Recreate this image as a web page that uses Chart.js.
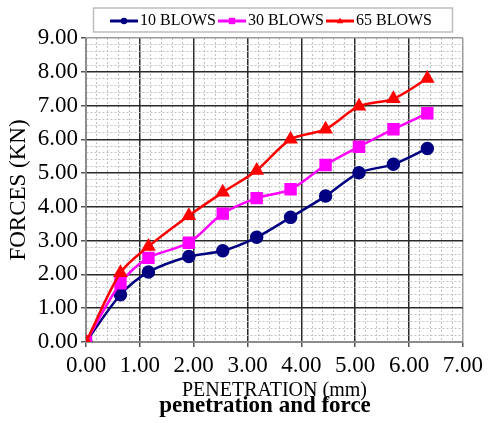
<!DOCTYPE html>
<html>
<head>
<meta charset="utf-8">
<script src="https://cdn.jsdelivr.net/npm/chart.js@4/dist/chart.umd.min.js"></script>
<style>
  html, body { margin: 0; padding: 0; background: #fff; }
</style>
</head>
<body>
<canvas id="myChart" width="488" height="423"></canvas>
<script>
// penetration (mm) readings, shared by all three series
var penetration = [0, 0.64, 1.16, 1.91, 2.54, 3.17, 3.80, 4.45, 5.07, 5.71, 6.34];
// forces (KN)
var blows10 = [0, 1.40, 2.07, 2.53, 2.70, 3.10, 3.69, 4.32, 5.01, 5.26, 5.73];
var blows30 = [0, 1.74, 2.49, 2.94, 3.80, 4.26, 4.52, 5.24, 5.78, 6.30, 6.77];
var blows65 = [0, 2.05, 2.83, 3.74, 4.43, 5.08, 6.00, 6.30, 6.98, 7.20, 7.80];
var seriesNames = ['10 BLOWS', '30 BLOWS', '65 BLOWS'];
var caption = 'penetration and force';

var serif = "'Liberation Serif', 'Times New Roman', serif";

function pts(ys) {
  return ys.map(function (y, i) { return { x: penetration[i], y: y }; });
}
function isMajor(v) { return Math.abs(v - Math.round(v)) < 1e-6; }

function gridColor(max) {
  return function (c) {
    var v = c.tick.value;
    if (!isMajor(v)) return '#c2c2c2';
    if (Math.abs(v - max) < 1e-6) return '#9a9a9a';
    return '#2a2a2a';
  };
}
function gridWidth(c) { return isMajor(c.tick.value) ? 1.5 : 1; }
function tickColor(c) { return isMajor(c.tick.value) ? '#555' : 'rgba(0,0,0,0)'; }
function gridDash(c) {
  if (!c.tick) return [];
  return isMajor(c.tick.value) ? [] : [2, 2];
}
function tickLabel(v) { return isMajor(v) ? v.toFixed(2) : ''; }

function drawMarker(ctx, style, x, y, r) {
  ctx.beginPath();
  if (style === 'circle') {
    ctx.arc(x, y, r, 0, 2 * Math.PI);
  } else if (style === 'rect') {
    ctx.rect(x - r, y - r, 2 * r, 2 * r);
  } else {
    ctx.moveTo(x, y - r * 1.1);
    ctx.lineTo(x + r, y + r * 0.7);
    ctx.lineTo(x - r, y + r * 0.7);
    ctx.closePath();
  }
  ctx.fill();
}

// legend box on top and the caption under the x axis
var extras = {
  id: 'extras',
  afterDraw: function (chart) {
    var ctx = chart.ctx;
    ctx.save();
    ctx.strokeStyle = '#bdbdbd';
    ctx.lineWidth = 1.5;
    ctx.strokeRect(93.5, 8, 359, 24);
    ctx.font = '16px ' + serif;
    ctx.textBaseline = 'middle';
    ctx.textAlign = 'left';
    var x = 110, y = 21;
    chart.data.datasets.forEach(function (ds) {
      ctx.strokeStyle = ds.borderColor;
      ctx.fillStyle = ds.borderColor;
      ctx.lineWidth = 3;
      ctx.beginPath();
      ctx.moveTo(x, y);
      ctx.lineTo(x + 28, y);
      ctx.stroke();
      drawMarker(ctx, ds.pointStyle, x + 14, y, 3.2);
      x += 30;
      ctx.fillStyle = '#000';
      ctx.fillText(ds.label, x, y);
      x += ctx.measureText(ds.label).width + 2;
    });

    ctx.font = 'bold 23px ' + serif;
    ctx.textAlign = 'center';
    ctx.fillStyle = '#000';
    ctx.fillText(caption, 265, 406);
    ctx.restore();
  }
};

var ctx = document.getElementById('myChart');
var charts = new Chart(ctx, {
  type: 'line',
  data: {
    datasets: [
      {
        label: seriesNames[0],
        data: pts(blows10),
        borderColor: '#000080',
        backgroundColor: '#000080',
        borderWidth: 2.5,
        pointStyle: 'circle',
        pointRadius: 5.5,
        tension: 0.3,
        order: 3
      },
      {
        label: seriesNames[1],
        data: pts(blows30),
        borderColor: '#ff00ff',
        backgroundColor: '#ff00ff',
        borderWidth: 2.5,
        pointStyle: 'rect',
        pointRadius: 7,
        tension: 0.3,
        order: 2
      },
      {
        label: seriesNames[2],
        data: pts(blows65),
        borderColor: '#ff0000',
        backgroundColor: '#ff0000',
        borderWidth: 2.5,
        pointStyle: 'triangle',
        pointRadius: 6,
        tension: 0.3,
        order: 1
      }
    ]
  },
  options: {
    responsive: false,
    animation: false,
    layout: { padding: { left: 0, right: 22, top: 38, bottom: 26 } },
    plugins: {
      legend: { display: false },
      tooltip: { enabled: false },
      title: { display: false }
    },
    scales: {
      x: {
        type: 'linear',
        min: 0,
        max: 7,
        afterFit: function (s) { s.height = 55; },
        ticks: {
          stepSize: 0.2,
          autoSkip: false,
          maxRotation: 0,
          padding: 5,
          color: '#000',
          font: { family: serif, size: 23 },
          callback: tickLabel
        },
        grid: { color: gridColor(7), lineWidth: gridWidth, tickColor: tickColor, tickLength: 5 },
        border: { color: '#8a8a8a', width: 1.5, dash: gridDash },
        title: {
          display: true,
          text: 'PENETRATION (mm)',
          color: '#000',
          font: { family: serif, size: 20, lineHeight: 0.6 },
          padding: 0
        }
      },
      y: {
        min: 0,
        max: 9,
        afterFit: function (s) { s.width = 86; },
        ticks: {
          stepSize: 0.2,
          autoSkip: false,
          padding: 3,
          color: '#000',
          font: { family: serif, size: 23 },
          callback: tickLabel
        },
        grid: { color: gridColor(9), lineWidth: gridWidth, tickColor: tickColor, tickLength: 5 },
        border: { color: '#8a8a8a', width: 1.5, dash: gridDash },
        title: {
          display: true,
          text: 'FORCES (KN)',
          color: '#000',
          font: { family: serif, size: 23 },
          padding: { top: 5, bottom: 0 }
        }
      }
    }
  },
  plugins: [extras]
});
</script>
</body>
</html>
